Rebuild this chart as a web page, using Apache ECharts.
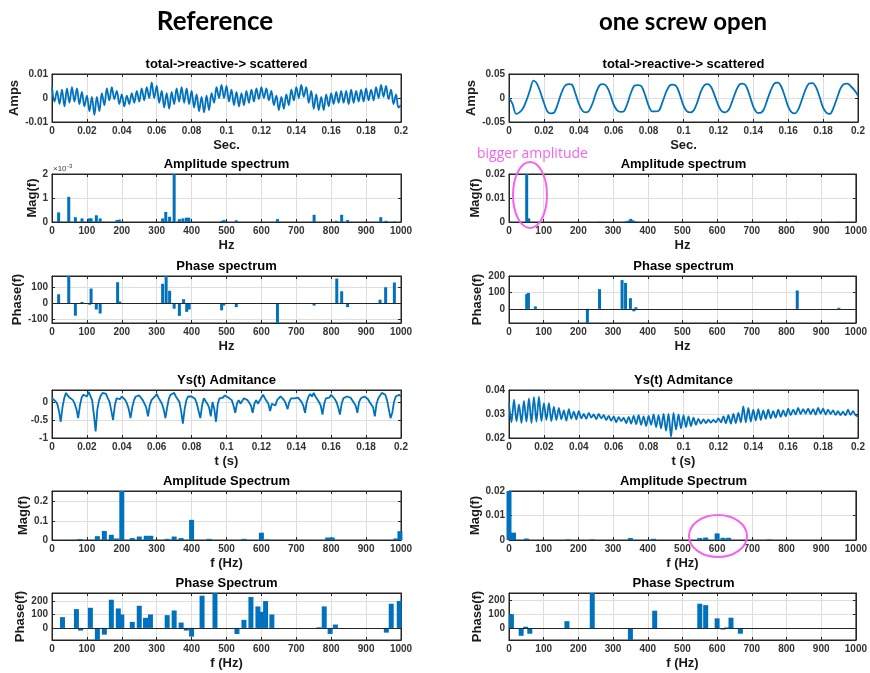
<!DOCTYPE html>
<html>
<head>
<meta charset="utf-8">
<script src="https://cdn.jsdelivr.net/npm/echarts@6/dist/echarts.min.js"></script>
<style>
  html, body { margin: 0; padding: 0; background: #ffffff; }
  #chart { width: 870px; height: 673px; }
</style>
</head>
<body>
<div id="chart"></div>
<script>
// Sampled signals span 0 … 0.2 s on an even sample grid.
const T_END = 0.2;

// ---------- Reference machine ----------
// total -> reactive -> scattered current (A)
const refCurrent = [
  .0045,-.0015,.003,-.0025,.0035,-.0035,.004,-.002,.0045,-.0015,
  .004,-.0025,.0025,-.0035,.001,-.0055,.0005,-.007,.0005,-.0055,
  .002,-.003,.004,-.001,.0045,-.0005,.003,-.0025,.0015,-.0035,
  .001,-.0025,.002,-.002,.003,-.0015,.004,-.001,.0045,0,
  .0065,0,.005,-.002,.003,-.004,.002,-.0045,.0025,-.0025,
  .004,-.0015,.0045,-.002,.004,-.0025,.003,-.004,.0015,-.0055,
  .0005,-.006,.001,-.005,.002,-.002,.0045,0,.0055,0,
  .005,-.0015,.0035,-.003,.0025,-.0035,.002,-.003,.003,-.002,
  .0035,-.0015,.004,-.0005,.0045,0,.004,-.001,.003,-.003,
  .001,-.005,.0005,-.0045,.0015,-.003,.0035,-.001,.0045,0,
  .0055,.0005,.0045,-.002,.003,-.0045,.0015,-.005,.0005,-.005,
  .0015,-.0035,.002,-.0025,.0025,-.002,.003,-.002,.003,-.0025,
  .0035,-.002,.003,-.0015,.0035,-.0015,.004,-.001,.0035,-.001,
  .0045,0,.0055,.0005,.005,-.0005,.0035,-.0025,.0015,-.004,
  -.003
];
const refAmpHz  = [19,48,67,86,107,112,127,138,186,193,317,326,337,350,365,375,385,392,487,493,528,646,751,814,830,847,942,957,981];
const refAmpMag = [0.0004,0.00105,0.0002,0.00015,0.00015,0.00015,0.00028,0.00015,0.00008,0.0001,
                   0.00015,0.00042,0.00022,0.0021,0.00012,0.00015,0.00018,0.00018,
                   0.00005,0.00008,0.00007,0.00012,0.0003,0.00005,0.0003,0.00008,0.0002,0.00005,0.00002];
const refPhaseHz  = [19,48,67,86,108,112,127,138,188,194,317,327,337,350,365,377,386,393,486,492,528,646,751,816,830,847,940,956,981];
const refPhaseDeg = [56,175,-79,8,-10,92,-40,-65,132,10,122,175,78,-35,-80,25,-55,-40,-45,-15,-25,-130,-15,155,75,-25,22,100,130];

// Ys(t) admittance
const refAdmit = [
  0.10,0.15,0.02,-0.05,-0.25,-0.55,-0.15,0.10,0.25,0.18,
  0.12,0.15,0.05,-0.05,-0.20,-0.45,-0.10,0.12,0.20,0.22,
  0.15,0.28,0.30,0.05,-0.35,-0.82,-0.20,0.05,0.18,0.25,
  0.20,0.22,0.10,0.00,-0.25,-0.50,-0.10,0.10,0.12,0.08,
  0.15,0.10,0.05,-0.05,-0.20,-0.45,-0.15,0.05,0.15,0.12,
  0.18,0.15,0.05,-0.05,-0.15,-0.40,-0.10,0.05,0.10,0.15,
  0.22,0.12,0.08,-0.05,-0.20,-0.45,-0.15,0.10,0.20,0.22,
  0.25,0.15,0.10,0.00,-0.25,-0.60,-0.20,0.05,0.15,0.20,
  0.15,0.18,0.08,-0.05,-0.25,-0.45,-0.10,0.10,0.05,-0.05,
  -0.15,-0.40,0.00,-0.20,-0.55,-0.05,0.10,0.15,0.12,0.18,
  0.15,0.12,0.15,0.05,-0.10,-0.30,-0.05,0.05,-0.05,0.00,
  0.10,0.12,0.05,0.00,-0.10,-0.30,-0.05,0.05,-0.05,0.00,
  0.12,0.20,0.10,0.05,-0.05,-0.25,-0.05,0.00,-0.10,0.05,
  0.10,0.15,0.10,0.05,-0.05,-0.20,0.00,0.10,0.05,0.10,
  0.15,0.12,0.08,0.00,-0.10,-0.30,0.00,0.15,0.22,0.15,
  0.25,0.15,0.10,0.00,-0.10,-0.35,-0.05,0.10,0.15,0.12,
  0.20,0.15,0.08,0.00,-0.15,-0.35,-0.05,0.10,0.12,0.15,
  0.10,0.12,0.05,0.00,-0.10,-0.30,0.00,0.10,0.12,0.15,
  0.10,0.08,0.00,-0.05,-0.15,-0.40,-0.05,0.10,0.15,0.25,
  0.30,0.20,0.05,-0.20,-0.45,-0.30,0.00,0.15,0.10,0.20,
  0.15
];
const refYAmpHz  = [80,130,150,170,185,200,230,250,270,283,330,350,370,400,450,550,600,617,790,803,985,997];
const refYAmpMag = [0.005,0.02,0.047,0.027,0.008,0.26,0.01,0.018,0.022,0.022,0.006,0.018,0.01,0.105,0.006,0.006,0.038,0.003,0.013,0.013,0.008,0.046];
const refYPhaseHz  = [30,70,82,110,130,150,170,190,200,230,250,268,282,330,350,370,385,400,430,467,530,550,570,590,600,612,630,765,780,797,812,958,972,995];
const refYPhaseDeg = [80,140,-20,150,-95,-50,210,145,100,45,165,75,100,95,130,40,-20,-65,240,270,-45,60,230,160,120,200,100,5,160,-45,25,-35,180,200];

// ---------- One screw open ----------
const screwCurrent = [
  0.000,-0.012,-0.033,-0.030,-0.022,-0.005,0.016,0.036,0.030,0.012,
  -0.010,-0.028,-0.032,-0.030,-0.012,0.010,0.025,0.029,0.028,0.010,
  -0.012,-0.026,-0.030,-0.026,-0.010,0.012,0.027,0.029,0.024,0.008,
  -0.014,-0.026,-0.029,-0.027,-0.010,0.012,0.026,0.027,0.024,0.006,
  -0.016,-0.028,-0.028,-0.026,-0.008,0.012,0.026,0.028,0.024,0.006,
  -0.016,-0.028,-0.030,-0.025,-0.008,0.014,0.027,0.029,0.022,0.004,
  -0.016,-0.028,-0.030,-0.024,-0.006,0.014,0.028,0.030,0.024,0.004,
  -0.018,-0.030,-0.031,-0.024,-0.004,0.016,0.030,0.032,0.024,0.004,
  -0.018,-0.030,-0.032,-0.022,-0.002,0.018,0.030,0.031,0.022,0.002,
  -0.020,-0.031,-0.033,-0.020,0.000,0.020,0.029,0.030,0.024,0.016,
  0.005
];
const screwAmpHz  = [51,57,230,262,338,345,351,357,362,830,950];
const screwAmpMag = [0.0205,0.0015,0.0001,0.0001,0.0003,0.0006,0.0013,0.0007,0.0003,0.0002,0.0001];
const screwPhaseHz  = [51,56,76,226,261,326,336,350,360,366,831,951];
const screwPhaseDeg = [90,97,15,-95,120,175,158,65,-15,10,112,7];

const screwAdmit = [
  .0345,.0265,.0360,.0270,.0340,.0262,.0355,.0268,.0365,.0262,
  .0370,.0268,.0372,.0270,.0345,.0275,.0345,.0270,.0330,.0275,
  .0325,.0278,.0315,.0272,.0320,.0280,.0310,.0278,.0312,.0282,
  .0300,.0280,.0305,.0285,.0298,.0278,.0300,.0282,.0295,.0275,
  .0292,.0272,.0290,.0265,.0288,.0270,.0285,.0262,.0288,.0260,
  .0292,.0258,.0295,.0255,.0290,.0250,.0292,.0255,.0298,.0245,
  .0295,.0240,.0300,.0230,.0300,.0205,.0305,.0235,.0298,.0240,
  .0295,.0245,.0290,.0250,.0285,.0255,.0280,.0260,.0278,.0262,
  .0276,.0264,.0275,.0265,.0282,.0265,.0290,.0262,.0295,.0260,
  .0300,.0262,.0305,.0265,.0332,.0265,.0325,.0268,.0318,.0272,
  .0320,.0275,.0315,.0280,.0318,.0282,.0312,.0285,.0318,.0288,
  .0315,.0290,.0322,.0295,.0318,.0298,.0325,.0300,.0320,.0302,
  .0322,.0300,.0320,.0298,.0325,.0302,.0322,.0298,.0318,.0300,
  .0315,.0296,.0312,.0295,.0310,.0294,.0318,.0296,.0312,.0295,
  .0290
];
const screwYAmpHz  = [0,13,50,170,240,350,417,550,567,600,617,633,750];
const screwYAmpMag = [0.021,0.003,0.0006,0.0002,0.0002,0.0008,0.0005,0.0008,0.001,0.0027,0.0009,0.0009,0.0002];
const screwYPhaseHz  = [7,35,48,60,167,240,350,420,550,567,600,617,628,640,667,800];
const screwYPhaseDeg = [100,-55,10,-40,50,260,-95,125,175,165,70,-10,5,75,-40,-3];

// ---------- layout ----------
const BLUE = '#0072BD';
const AXIS_COLOR = '#262626';
const GRID_COLOR = '#dedede';
const FONT = '"Liberation Sans", Arial, sans-serif';
const COL_LEFT = [52, 509];
const PLOT_W = 349;
const ROW_TOP = [74, 174, 276, 390, 491, 593];
const ROW_H = [48, 48, 47, 48, 49, 47];

const timeSeries = vals => vals.map((v, i) => [i * T_END / (vals.length - 1), v]);
const barSeries = (hz, vals) => hz.map((f, i) => [f, vals[i]]);

const panels = [
  { col: 0, row: 0, title: 'total->reactive-> scattered', xKind: 't', xName: 'Sec.', yName: 'Amps', yGap: 25,
    y: { min: -0.01, max: 0.01, interval: 0.01 }, line: timeSeries(refCurrent), smooth: 0.35 },
  { col: 1, row: 0, title: 'total->reactive-> scattered', xKind: 't', xName: 'Sec.', yName: 'Amps', yGap: 25,
    y: { min: -0.05, max: 0.05, interval: 0.05 }, line: timeSeries(screwCurrent), smooth: 0.3 },
  { col: 0, row: 1, title: 'Amplitude spectrum', xKind: 'f', xName: 'Hz', yName: 'Mag(f)', yGap: 9,
    y: { min: 0, max: 0.002, interval: 0.001, fmt: v => String(Math.round(v * 1000)) },
    bars: barSeries(refAmpHz, refAmpMag), barW: 3 },
  { col: 1, row: 1, title: 'Amplitude spectrum', xKind: 'f', xName: 'Hz', yName: 'Mag(f)', yGap: 24,
    y: { min: 0, max: 0.02, interval: 0.01 }, bars: barSeries(screwAmpHz, screwAmpMag), barW: 3 },
  { col: 0, row: 2, title: 'Phase spectrum', xKind: 'f', xName: 'Hz', yName: 'Phase(f)', yGap: 23,
    y: { min: -125, max: 171, split: 3, hideMin: true, hideMax: true },
    bars: barSeries(refPhaseHz, refPhaseDeg), barW: 3, base: true },
  { col: 1, row: 2, title: 'Phase spectrum', xKind: 'f', xName: 'Hz', yName: 'Phase(f)', yGap: 20,
    y: { min: -86, max: 200, split: 3, hideMin: true },
    bars: barSeries(screwPhaseHz, screwPhaseDeg), barW: 3, base: true },
  { col: 0, row: 3, title: 'Ys(t) Admitance', xKind: 't', xName: 't (s)',
    y: { min: -1, max: 0.33, split: 3, hideMax: true }, line: timeSeries(refAdmit), smooth: 0 },
  { col: 1, row: 3, title: 'Ys(t) Admitance', xKind: 't', xName: 't (s)',
    y: { min: 0.02, max: 0.04, interval: 0.01 }, line: timeSeries(screwAdmit), smooth: 0.3 },
  { col: 0, row: 4, title: 'Amplitude Spectrum', xKind: 'f', xName: 'f (Hz)', yName: 'Mag(f)', yGap: 18,
    y: { min: 0, max: 0.255, split: 3, hideMax: true }, bars: barSeries(refYAmpHz, refYAmpMag), barW: 5 },
  { col: 1, row: 4, title: 'Amplitude Spectrum', xKind: 'f', xName: 'f (Hz)', yName: 'Mag(f)', yGap: 23,
    y: { min: 0, max: 0.02, interval: 0.01 }, bars: barSeries(screwYAmpHz, screwYAmpMag), barW: 5 },
  { col: 0, row: 5, title: 'Phase Spectrum', xKind: 'f', xName: 'f (Hz)', yName: 'Phase(f)', yGap: 19,
    y: { min: -90, max: 260, split: 3, hideMin: true, hideMax: true },
    bars: barSeries(refYPhaseHz, refYPhaseDeg), barW: 5, base: true },
  { col: 1, row: 5, title: 'Phase Spectrum', xKind: 'f', xName: 'f (Hz)', yName: 'Phase(f)', yGap: 20,
    y: { min: -85, max: 252, split: 3, hideMin: true, hideMax: true },
    bars: barSeries(screwYPhaseHz, screwYPhaseDeg), barW: 5, base: true }
];

const option = {
  animation: false,
  backgroundColor: '#ffffff',
  grid: [], xAxis: [], yAxis: [], series: [], graphic: []
};

const tickLabel = { fontSize: 10, fontWeight: 'bold', color: '#333333', fontFamily: FONT };
const nameStyle = { fontSize: 13, fontWeight: 'bold', color: '#1a1a1a', fontFamily: FONT };
const edgeLine = { show: true, onZero: false, lineStyle: { color: AXIS_COLOR, width: 1 } };
const inTick = { show: true, inside: true, length: 3, lineStyle: { color: AXIS_COLOR, width: 1 } };

panels.forEach((p, k) => {
  const left = COL_LEFT[p.col];
  const top = ROW_TOP[p.row];
  option.grid.push({ left, top, width: PLOT_W, height: ROW_H[p.row], containLabel: false,
    show: true, borderColor: AXIS_COLOR, borderWidth: 1, backgroundColor: '#ffffff' });

  const xr = p.xKind === 't' ? { min: 0, max: T_END, interval: 0.02 } : { min: 0, max: 1000, interval: 100 };
  option.xAxis.push({
    type: 'value', gridIndex: k, position: 'bottom', ...xr,
    axisLine: edgeLine, axisTick: inTick,
    axisLabel: { ...tickLabel, margin: 4, formatter: v => String(+v.toFixed(3)) },
    splitLine: { show: true, lineStyle: { color: GRID_COLOR, width: 1 } },
    name: p.xName, nameLocation: 'middle', nameGap: 17, nameTextStyle: nameStyle
  });
  option.xAxis.push({
    type: 'value', gridIndex: k, position: 'top', ...xr,
    axisLine: edgeLine, axisTick: inTick, axisLabel: { show: false }, splitLine: { show: false }
  });

  const yr = { min: p.y.min, max: p.y.max };
  if (p.y.interval) yr.interval = p.y.interval; else yr.splitNumber = p.y.split;
  option.yAxis.push({
    type: 'value', gridIndex: k, position: 'left', ...yr,
    axisLine: edgeLine, axisTick: inTick,
    axisLabel: { ...tickLabel, margin: 4,
      showMinLabel: !p.y.hideMin, showMaxLabel: !p.y.hideMax,
      formatter: p.y.fmt || (v => String(+v.toFixed(3))) },
    splitLine: { show: true, lineStyle: { color: GRID_COLOR, width: 1 } },
    name: p.yName || '', nameLocation: 'middle', nameGap: p.yGap || 20, nameTextStyle: nameStyle
  });
  option.yAxis.push({
    type: 'value', gridIndex: k, position: 'right', ...yr,
    axisLine: edgeLine, axisTick: inTick, axisLabel: { show: false }, splitLine: { show: false }
  });

  if (p.line) {
    option.series.push({
      type: 'line', xAxisIndex: 2 * k, yAxisIndex: 2 * k, data: p.line,
      showSymbol: false, smooth: p.smooth, clip: true,
      lineStyle: { color: BLUE, width: 1.8 }, z: 3
    });
  } else {
    const s = {
      type: 'bar', xAxisIndex: 2 * k, yAxisIndex: 2 * k, data: p.bars,
      barWidth: p.barW, clip: true, itemStyle: { color: BLUE }, z: 3
    };
    if (p.base) {
      s.markLine = { silent: true, symbol: ['none', 'none'], label: { show: false },
        lineStyle: { color: AXIS_COLOR, width: 1, type: 'solid' }, data: [{ yAxis: 0 }] };
    }
    option.series.push(s);
  }

  option.graphic.push({
    type: 'text', x: left + PLOT_W / 2, y: top - 10, z: 10,
    style: { text: p.title, fill: '#000000', font: 'bold 13px ' + FONT, align: 'center', verticalAlign: 'middle' }
  });
});

// column headings
option.graphic.push(
  { type: 'text', x: 215, y: 22, z: 10,
    style: { text: 'Reference', fill: '#000000', font: 'bold 26px Lato, "Liberation Sans", sans-serif', align: 'center', verticalAlign: 'middle' } },
  { type: 'text', x: 683, y: 22, z: 10,
    style: { text: 'one screw open', fill: '#000000', font: 'bold 24px Lato, "Liberation Sans", sans-serif', align: 'center', verticalAlign: 'middle' } }
);

// exponent marker for the reference amplitude spectrum
option.graphic.push(
  { type: 'text', x: 53, y: 169, z: 10, style: { text: '×10', fill: '#3a3a3a', font: '8px ' + FONT, align: 'left', verticalAlign: 'middle' } },
  { type: 'text', x: 67, y: 166, z: 10, style: { text: '-3', fill: '#3a3a3a', font: '6px ' + FONT, align: 'left', verticalAlign: 'middle' } }
);

// annotations
const PINK = '#f563ee';
option.graphic.push(
  { type: 'text', x: 477, y: 154, z: 10, style: { text: 'bigger amplitude', fill: PINK, font: '14px "Open Sans", sans-serif', align: 'left', verticalAlign: 'middle' } },
  { type: 'ellipse', z: 10, shape: { cx: 530, cy: 195, rx: 17, ry: 33 }, style: { fill: 'none', stroke: PINK, lineWidth: 2 } },
  { type: 'ellipse', z: 10, shape: { cx: 718, cy: 536, rx: 29, ry: 21 }, style: { fill: 'none', stroke: PINK, lineWidth: 2 } }
);

const chart = echarts.init(document.getElementById('chart'), null, { renderer: 'canvas' });
chart.setOption(option);
</script>
</body>
</html>
